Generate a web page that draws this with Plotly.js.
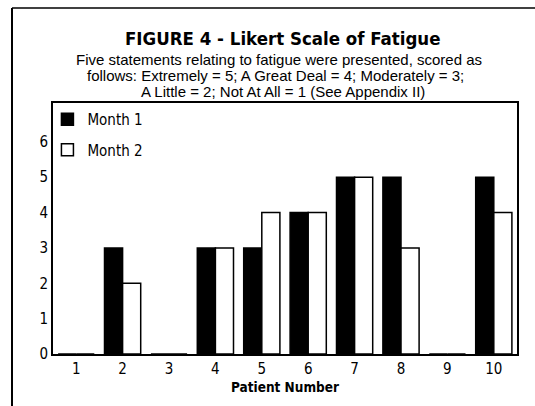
<!DOCTYPE html>
<html>
<head>
<meta charset="utf-8">
<script src="https://cdn.plot.ly/plotly-3.0.1.min.js"></script>
<style>html,body{margin:0;padding:0;background:#fff;}#chart{width:535px;height:406px;}</style>
</head>
<body>
<div id="chart"></div>
<script>
const patients = ["1","2","3","4","5","6","7","8","9","10"];
const month1 = [0,3,0,3,3,4,5,5,0,5];
const month2 = [0,2,0,3,4,4,5,3,0,4];
const yTicks = [0,1,2,3,4,5,6];
const seriesNames = ["Month 1","Month 2"];
const titleText = "FIGURE 4 - Likert Scale of Fatigue";
const subtitleLines = [
  "Five statements relating to fatigue were presented, scored as",
  "follows: Extremely = 5; A Great Deal = 4; Moderately = 3;",
  "A Little = 2; Not At All = 1 (See Appendix II)"
];

const narrow = '"Liberation Sans Narrow", "DejaVu Sans Condensed", Arial, sans-serif';
const regular = '"Liberation Sans", Arial, sans-serif';
const data = [
  {type:'bar', x:patients, y:month1, name:seriesNames[0], legendgroup:'a',
   marker:{color:'#000', line:{color:'#000', width:1.5}}},
  {type:'bar', x:patients, y:month2, name:seriesNames[1], legendgroup:'b',
   marker:{color:'#fff', line:{color:'#000', width:1.5}}}
];
const annotations = [
  {xref:'paper', yref:'paper', x:(282-53)/464, y:1, yshift:65, yanchor:'middle', xanchor:'center', showarrow:false,
   text:'<b>'+titleText+'</b>', font:{family:narrow, size:18.5, color:'#000'}}
];
const lineShifts = [44, 28, 12];
const lineX = [279, 275, 283];
subtitleLines.forEach((t,i)=>{
  annotations.push({xref:'paper', yref:'paper', x:(lineX[i]-53)/464, y:1, yshift:lineShifts[i], yanchor:'middle',
    xanchor:'center', showarrow:false, text:t, font:{family:regular, size:15, color:'#000'}});
});
const layout = {
  width:535, height:406,
  margin:{l:53, r:18, t:103, b:52},
  paper_bgcolor:'#fff', plot_bgcolor:'#fff',
  barmode:'group', bargap:0.22, bargroupgap:0,
  showlegend:true,
  legend:{x:-0.012, y:1, xanchor:'left', yanchor:'top', traceorder:'grouped', tracegroupgap:8,
          bgcolor:'rgba(0,0,0,0)', font:{family:narrow, size:15, color:'#000'}},
  xaxis:{type:'category', showline:true, mirror:true, linecolor:'#000', linewidth:2, ticks:'',
         showgrid:false, zeroline:false, tickfont:{family:narrow, size:15, color:'#000'},
         title:{text:'<b>Patient Number</b>', standoff:6, font:{family:narrow, size:13.5, color:'#000'}}},
  yaxis:{range:[0,7.1], tickvals:yTicks, showline:true, mirror:true, linecolor:'#000', linewidth:2,
         ticks:'', showgrid:false, zeroline:false, ticklabelstandoff:0,
         tickfont:{family:narrow, size:15, color:'#000'}},
  annotations:annotations,
  shapes:[
    {type:'line', xref:'paper', yref:'paper', x0:-41/464, x1:-41/464, y0:-2, y1:1+95/251, line:{color:'#000', width:2}},
    {type:'line', xref:'paper', yref:'paper', x0:-41/464, x1:1.1, y0:1+95/251, y1:1+95/251, line:{color:'#000', width:1.5}}
  ]
};
Plotly.newPlot('chart', data, layout, {displayModeBar:false, staticPlot:true});
</script>
</body>
</html>
